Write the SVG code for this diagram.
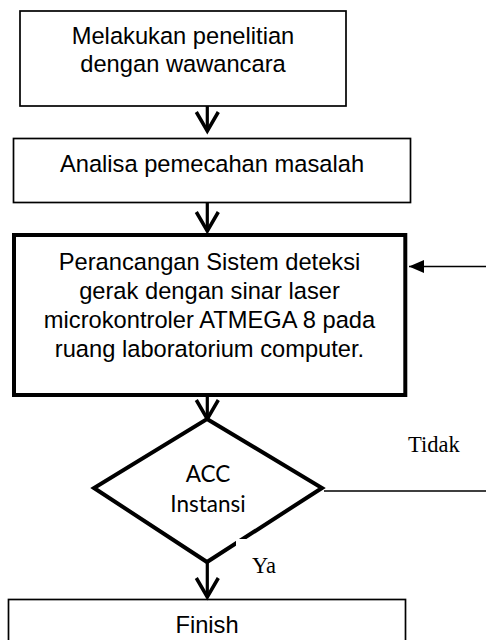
<svg xmlns="http://www.w3.org/2000/svg" width="486" height="640" viewBox="0 0 486 640">
<style>
.box{fill:#fff;stroke:#000;stroke-width:1.7}
.thick{fill:#fff;stroke:#000;stroke-width:4}
.t{font-family:"Liberation Sans",Arial,sans-serif;font-size:23.7px;fill:#000;text-anchor:middle}
.c{font-family:Lato,"Open Sans",sans-serif;font-size:22.5px;fill:#000;text-anchor:middle}
.s{font-family:"Liberation Serif","Times New Roman",serif;font-size:22.5px;fill:#000}
.down{fill:none;stroke:#000;stroke-width:3.2;marker-end:url(#chev)}
.fb{fill:none;stroke:#000;stroke-width:1.4;marker-end:url(#tri)}
</style>
<defs>
<marker id="chev" markerUnits="userSpaceOnUse" orient="auto" refX="0" refY="0" markerWidth="30" markerHeight="30" viewBox="-25 -15 30 30" overflow="visible">
<path d="M-19,-11 L0,0 L-19,11" fill="none" stroke="#000" stroke-width="3.5" stroke-linejoin="miter"/>
</marker>
<marker id="tri" markerUnits="userSpaceOnUse" orient="auto" refX="0" refY="0" markerWidth="20" markerHeight="20" viewBox="-17 -8 20 16" overflow="visible">
<path d="M-15,-6.5 L0,0 L-15,6.5 Z" fill="#000"/>
</marker>
</defs>
<g id="n1">
<rect class="box" x="20" y="11" width="326" height="95"/>
<text class="t" x="183" y="44">Melakukan penelitian</text>
<text class="t" x="183" y="72">dengan wawancara</text>
</g>
<g id="n2">
<rect class="box" x="13.5" y="138.5" width="397" height="64"/>
<text class="t" x="212" y="172">Analisa pemecahan masalah</text>
</g>
<g id="n3">
<rect class="thick" x="14" y="235" width="391.3" height="160"/>
<text class="t" x="209.5" y="269.5">Perancangan Sistem deteksi</text>
<text class="t" x="209.5" y="298.5">gerak dengan sinar laser</text>
<text class="t" x="209.5" y="327.5">microkontroler ATMEGA 8 pada</text>
<text class="t" x="209.5" y="356.5">ruang laboratorium computer.</text>
</g>
<g id="n5">
<rect class="box" x="8.5" y="599.5" width="397" height="60"/>
<text class="t" x="207" y="633">Finish</text>
</g>
<g id="connectors">
<path class="down" d="M207.3,106 V131"/>
<path class="down" d="M207.3,203 V231"/>
<path class="down" d="M207.3,397 V419"/>
<path class="fb" d="M324,491 H492 V266.5 H409"/>
</g>
<g id="n4">
<polygon class="thick" points="207,419 322,488 207,562 94,488"/>
<text class="c" x="208" y="482">ACC</text>
<text class="c" x="208" y="512">Instansi</text>
</g>
<g id="connectors2">
<path class="down" d="M207.3,562 V597"/>
</g>
<g id="labels">
<text class="s" x="408" y="452">Tidak</text>
<rect x="236" y="539" width="50" height="40" fill="#fff"/>
<text class="s" x="252" y="573">Ya</text>
</g>
</svg>
